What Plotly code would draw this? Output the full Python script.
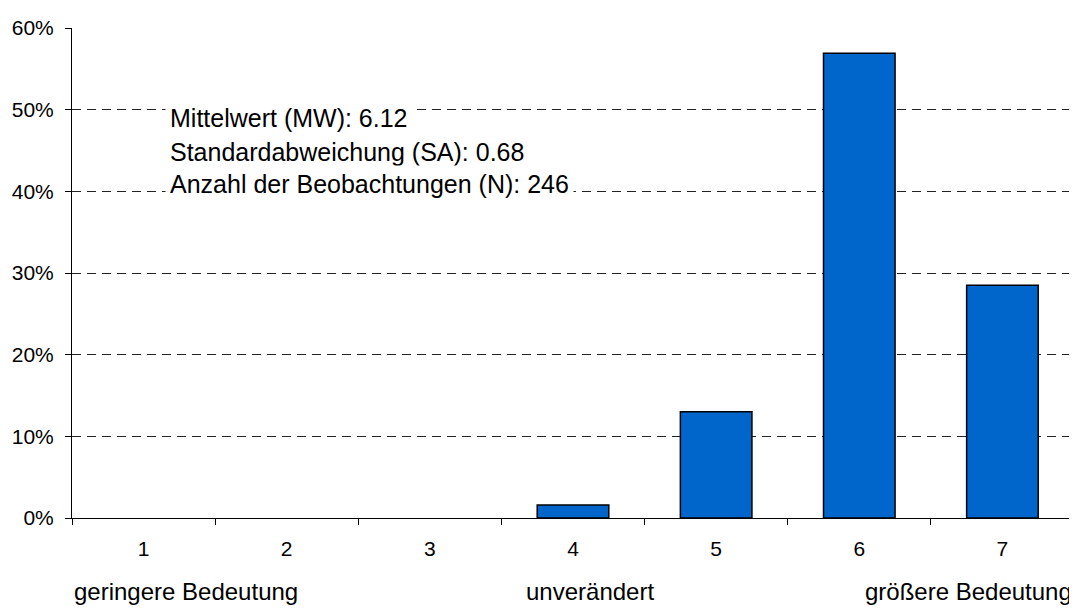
import plotly.graph_objects as go

categories = ["1", "2", "3", "4", "5", "6", "7"]
shares = [0.0, 0.0, 0.0, 1.6, 13.0, 56.9, 28.5]
y_ticks = [0, 10, 20, 30, 40, 50, 60]
y_labels = ["0%", "10%", "20%", "30%", "40%", "50%", "60%"]
stats_lines = [
    "Mittelwert (MW): 6.12",
    "Standardabweichung (SA): 0.68",
    "Anzahl der Beobachtungen (N): 246",
]
stats_y = [49.0, 44.8, 40.9]
scale_labels = ["geringere Bedeutung", "unverändert", "größere Bedeutung"]

FONT = "Liberation Sans, Arial, sans-serif"

# The page body has an 8px default margin, so the figure is sized to fill
# the remaining 1069x600 window area exactly.
fig = go.Figure()
fig.add_trace(go.Bar(
    x=categories, y=shares,
    marker=dict(color="#0066CC",
                line=dict(color="black", width=[1.5 if v > 0 else 0 for v in shares])),
    hoverinfo="skip",
))

fig.update_layout(
    width=1069, height=600,
    margin=dict(l=64, r=3, t=20, b=90, autoexpand=False),
    paper_bgcolor="white", plot_bgcolor="white",
    bargap=0.5, showlegend=False,
    font=dict(family=FONT, size=21, color="black"),
)
fig.update_xaxes(
    type="category", showline=True, linecolor="black", linewidth=1,
    ticks="outside", tickson="boundaries", ticklen=6, tickcolor="black",
    showgrid=False, ticklabelstandoff=12, tickfont=dict(size=21),
    automargin=False,
)
fig.update_yaxes(
    range=[0, 60], tickvals=y_ticks, ticktext=y_labels,
    showline=True, linecolor="black", linewidth=1,
    ticks="outside", ticklen=6, tickcolor="black",
    showgrid=True, gridcolor="#222222", gridwidth=1, griddash="9px,6px",
    zeroline=False, tickfont=dict(size=21), automargin=False,
    ticklabelstandoff=7,
)

for text, yv in zip(stats_lines, stats_y):
    fig.add_annotation(
        x=0.093, xref="paper", y=yv, yref="y", text=text, showarrow=False,
        xanchor="left", yanchor="middle", bgcolor="white", borderpad=4,
        font=dict(size=25, family=FONT, color="black"),
    )

fig.add_annotation(x=0.0, xref="paper", y=-0.151, yref="paper", text=scale_labels[0],
                   showarrow=False, xanchor="left", yanchor="middle", font=dict(size=24))
fig.add_annotation(x=0.517, xref="paper", y=-0.151, yref="paper", text=scale_labels[1],
                   showarrow=False, xanchor="center", yanchor="middle", font=dict(size=24))
fig.add_annotation(x=1.0, xref="paper", y=-0.151, yref="paper", text=scale_labels[2],
                   showarrow=False, xanchor="right", yanchor="middle", font=dict(size=24))

fig.write_html("out.html")
